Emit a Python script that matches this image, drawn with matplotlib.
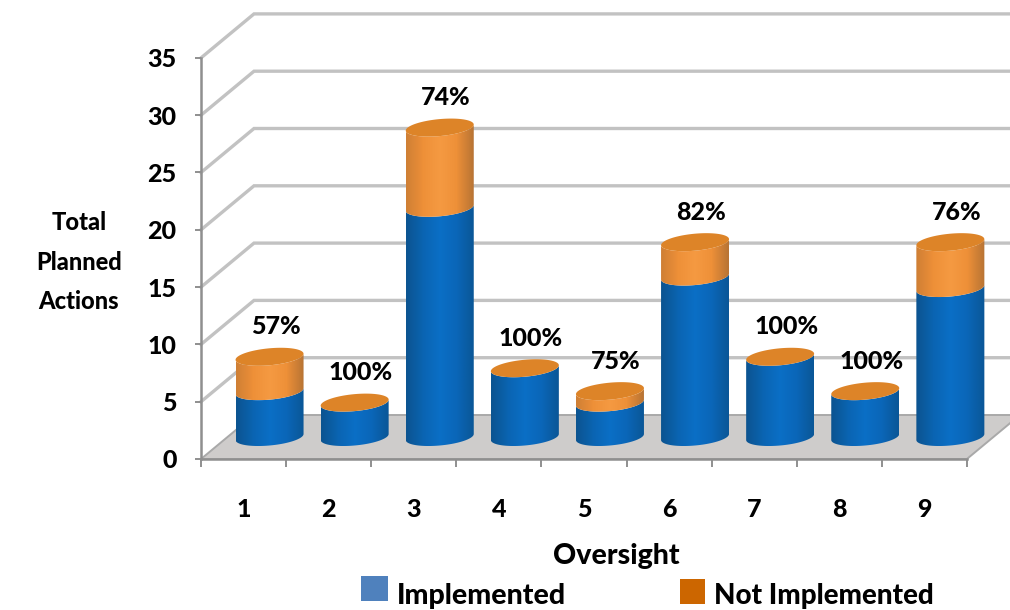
# Cylinder chart of planned actions per oversight, stacked by implementation status
import numpy as np
import matplotlib
matplotlib.use("Agg")
import matplotlib.pyplot as plt
from matplotlib.colors import LinearSegmentedColormap
from matplotlib.patches import Polygon, Rectangle

oversights = ["1", "2", "3", "4", "5", "6", "7", "8", "9"]
implemented = [4, 3, 20, 6, 3, 14, 7, 4, 13]
not_implemented = [3, 0, 7, 0, 1, 3, 0, 0, 4]
y_ticks = [0, 5, 10, 15, 20, 25, 30, 35]

W, H = 1010, 610
PX_X = 85.1     # pixels per category
PX_Y = 11.46    # pixels per action
LEFT, BOTTOM = 201, 459     # where the origin sits in the figure

DEPTH_X = 53 / PX_X     # offset of the back wall
DEPTH_Y = 44 / PX_Y

BAR_W = 68 / PX_X
BAR_SHIFT = 26 / PX_X
BAR_BASE = 22 / PX_Y    # bars stand in the middle of the floor
ELL_H = 8.5 / PX_Y
ELL_TILT = 3 / PX_Y

plt.rcParams["font.family"] = ["Lato", "DejaVu Sans"]
plt.rcParams["font.weight"] = 900
plt.rcParams["font.size"] = 18

GRID = "#c2c2c2"
AXIS = "#8f8f8f"

blue_map = LinearSegmentedColormap.from_list("b", ["#0c5490", "#0a64b2", "#0b6fc6", "#0a66b8", "#0a5797"])
orange_map = LinearSegmentedColormap.from_list("o", ["#cf7f35", "#ee9038", "#f59a42", "#ee9038", "#b87434"])


# x and y of a tilted ellipse, t in radians
def ellipse(cx, cy, t):
    half = BAR_W / 2
    return cx + half * np.cos(t), cy + ELL_H * np.sin(t) + ELL_TILT * np.cos(t)


# One piece of a cylinder from y0 to y1, shaded from left to right
def cylinder_piece(ax, cx, y0, y1, cmap, z):
    t = np.linspace(np.pi, 2 * np.pi, 50)
    lx, ly = ellipse(cx, y0, t)
    ux, uy = ellipse(cx, y1, t[::-1])
    outline = np.column_stack([np.r_[lx, ux], np.r_[ly, uy]])
    clip = Polygon(outline, closed=True, fc="none", ec="none", transform=ax.transData, zorder=z)
    ax.add_patch(clip)
    shade = np.linspace(0, 1, 64).reshape(1, -1)
    half = BAR_W / 2
    im = ax.imshow(shade, cmap=cmap, aspect="auto", zorder=z,
                   extent=(cx - half, cx + half, min(ly.min(), uy.min()), max(ly.max(), uy.max())))
    im.set_clip_path(clip)


fig = plt.figure(figsize=(W / 100, H / 100), dpi=100)
ax = fig.add_axes([0, 0, 1, 1])

# Walls and floor
for v in y_ticks[1:]:
    ax.plot([0, DEPTH_X, 12], [v, v + DEPTH_Y, v + DEPTH_Y], color=GRID, lw=2.4, zorder=1,
            solid_joinstyle="miter")
n = len(oversights)
floor = Polygon([(0, 0), (n, 0), (n + DEPTH_X, DEPTH_Y), (DEPTH_X, DEPTH_Y)], closed=True,
                fc="#cecccb", ec="#a9a9a9", lw=1.4, zorder=1.5)
ax.add_patch(floor)

# Cylinders, implemented part first and the other one stacked on top
for i in range(n):
    cx = i + 0.5 + BAR_SHIFT
    base = BAR_BASE
    mid = base + implemented[i]
    top = mid + not_implemented[i]
    cylinder_piece(ax, cx, base, mid, blue_map, 3)
    if not_implemented[i] > 0:
        cylinder_piece(ax, cx, mid, top, orange_map, 3.1)
    t = np.linspace(0, 2 * np.pi, 80)
    ex, ey = ellipse(cx, top, t)
    ax.fill(ex, ey, color="#dd8428", lw=0, zorder=3.2)

    pct = round(100 * implemented[i] / (implemented[i] + not_implemented[i]))
    ax.text(cx + 0.07, top + 30 / PX_Y, f"{pct}%", ha="center", va="center",
            zorder=4, fontsize=18)

# Axis lines and ticks sit on the front edge
ax.set_xlim(-LEFT / PX_X, (W - LEFT) / PX_X)
ax.set_ylim((BOTTOM - H) / PX_Y, BOTTOM / PX_Y)
for side in ["top", "right"]:
    ax.spines[side].set_visible(False)
ax.spines["left"].set_position(("data", 0))
ax.spines["bottom"].set_position(("data", 0))
ax.spines["left"].set_bounds(0, 35)
ax.spines["bottom"].set_bounds(0, n)
for side in ["left", "bottom"]:
    ax.spines[side].set_color(AXIS)
    ax.spines[side].set_linewidth(1.8)
ax.set_yticks(y_ticks)
ax.set_yticklabels([str(v) for v in y_ticks])
ax.set_xticks(np.arange(n + 1))
ax.set_xticklabels([""] * (n + 1))
ax.set_xticks(np.arange(n) + 0.5, minor=True)
ax.set_xticklabels(oversights, minor=True)
ax.tick_params(axis="y", length=4.5, width=1.4, color=AXIS, pad=13)
ax.tick_params(axis="x", which="major", length=6, width=1.4, color=AXIS)
ax.tick_params(axis="x", which="minor", length=0, pad=28)


# Figure fractions from pixel positions, for the titles and the key
def fx(px):
    return px / W


def fy(py):
    return 1 - py / H


fig.text(fx(79), fy(223), "Total", ha="center", va="center", fontsize=17)
fig.text(fx(79), fy(262), "Planned", ha="center", va="center", fontsize=17)
fig.text(fx(79), fy(301), "Actions", ha="center", va="center", fontsize=17)
fig.text(fx(616), fy(556), "Oversight", ha="center", va="center", fontsize=20.5)

fig.add_artist(Rectangle((fx(361), fy(601)), 27 / W, 25 / H, transform=fig.transFigure, fc="#4f81bd", ec="none"))
fig.add_artist(Rectangle((fx(680), fy(604)), 25 / W, 25 / H, transform=fig.transFigure, fc="#cc6600", ec="none"))
fig.text(fx(397), fy(596), "Implemented", ha="left", va="center", fontsize=20.5)
fig.text(fx(714), fy(596), "Not Implemented", ha="left", va="center", fontsize=20)

fig.savefig("out.png", dpi=100)
